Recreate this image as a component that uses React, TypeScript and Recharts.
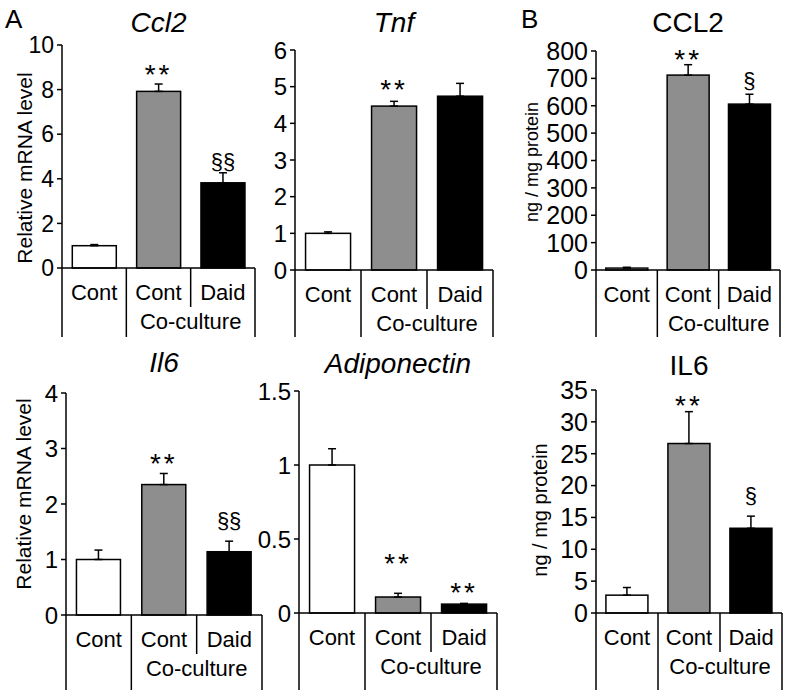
import { BarChart, Bar, XAxis, YAxis, ErrorBar } from "recharts";

const FONT = "'Liberation Sans', Arial, sans-serif";

// x categories
const CATEGORIES = ["Cont", "Cont", "Daid"];
const GROUP_LABEL = "Co-culture";

// A: mRNA
const CCL2_MRNA = [1.0, 7.92, 3.82];
const CCL2_MRNA_ERR = [0.05, 0.33, 0.45];
const CCL2_MRNA_SIG = ["", "**", "§§"];
const CCL2_MRNA_TICKS = [0, 2, 4, 6, 8, 10];

const TNF_MRNA = [1.0, 4.47, 4.74];
const TNF_MRNA_ERR = [0.04, 0.13, 0.35];
const TNF_MRNA_SIG = ["", "**", ""];
const TNF_MRNA_TICKS = [0, 1, 2, 3, 4, 5, 6];

const IL6_MRNA = [1.0, 2.35, 1.14];
const IL6_MRNA_ERR = [0.17, 0.2, 0.19];
const IL6_MRNA_SIG = ["", "**", "§§"];
const IL6_MRNA_TICKS = [0, 1, 2, 3, 4];

const ADIPO_MRNA = [1.0, 0.108, 0.06];
const ADIPO_MRNA_ERR = [0.11, 0.025, 0.005];
const ADIPO_MRNA_SIG = ["", "**", "**"];
const ADIPO_MRNA_TICKS = [0, 0.5, 1, 1.5];

// B: protein
const CCL2_PROT = [7, 712, 606];
const CCL2_PROT_ERR = [3, 38, 36];
const CCL2_PROT_SIG = ["", "**", "§"];
const CCL2_PROT_TICKS = [0, 100, 200, 300, 400, 500, 600, 700, 800];

const IL6_PROT = [2.8, 26.6, 13.3];
const IL6_PROT_ERR = [1.2, 5.0, 1.9];
const IL6_PROT_SIG = ["", "**", "§"];
const IL6_PROT_TICKS = [0, 5, 10, 15, 20, 25, 30, 35];

const FILLS = ["#ffffff", "#8e8e8e", "#000000"];
const Y_W = 60;
const TOP_M = 16;

type Panel = {
  title: string;
  italic: boolean;
  values: number[];
  errors: number[];
  sig: string[];
  ticks: number[];
  yLabel?: string;
  yLabelSize?: number;
  yLabelAt?: [number, number];
  left: number;
  right: number;
  top: number;
  bottom: number;
  tableH: number;
  tickFont: number;
  titleY: number;
  lift: number[];
};

const PANELS: Panel[] = [
  {
    title: "Ccl2", italic: true, values: CCL2_MRNA, errors: CCL2_MRNA_ERR, sig: CCL2_MRNA_SIG, ticks: CCL2_MRNA_TICKS,
    yLabel: "Relative mRNA level", yLabelSize: 21, yLabelAt: [24, 168],
    left: 62, right: 255, top: 45, bottom: 268, tableH: 70, tickFont: 23, titleY: 23, lift: [0, 16, 10],
  },
  {
    title: "Tnf", italic: true, values: TNF_MRNA, errors: TNF_MRNA_ERR, sig: TNF_MRNA_SIG, ticks: TNF_MRNA_TICKS,
    left: 295, right: 493, top: 50, bottom: 270, tableH: 68, tickFont: 24, titleY: 23, lift: [0, 18, 0],
  },
  {
    title: "CCL2", italic: false, values: CCL2_PROT, errors: CCL2_PROT_ERR, sig: CCL2_PROT_SIG, ticks: CCL2_PROT_TICKS,
    yLabel: "ng / mg protein", yLabelSize: 18, yLabelAt: [532, 162],
    left: 596, right: 780, top: 51, bottom: 270, tableH: 68, tickFont: 25, titleY: 23, lift: [0, 12, 12],
  },
  {
    title: "Il6", italic: true, values: IL6_MRNA, errors: IL6_MRNA_ERR, sig: IL6_MRNA_SIG, ticks: IL6_MRNA_TICKS,
    yLabel: "Relative mRNA level", yLabelSize: 21, yLabelAt: [23, 494],
    left: 66, right: 262, top: 393, bottom: 615, tableH: 76, tickFont: 24, titleY: 363, lift: [0, 16, 19],
  },
  {
    title: "Adiponectin", italic: true, values: ADIPO_MRNA, errors: ADIPO_MRNA_ERR, sig: ADIPO_MRNA_SIG, ticks: ADIPO_MRNA_TICKS,
    left: 299, right: 497, top: 391, bottom: 613, tableH: 78, tickFont: 24, titleY: 364, lift: [0, 36, 17],
  },
  {
    title: "IL6", italic: false, values: IL6_PROT, errors: IL6_PROT_ERR, sig: IL6_PROT_SIG, ticks: IL6_PROT_TICKS,
    yLabel: "ng / mg protein", yLabelSize: 20, yLabelAt: [540, 510],
    left: 596, right: 782, top: 390, bottom: 613, tableH: 78, tickFont: 25, titleY: 366, lift: [0, 13, 19],
  },
];

function TableTick(props: any) {
  const { x, y, index, payload, half, tableH } = props;
  const long = tableH - 1;
  const els: any[] = [];
  const line = (lx: number, len: number, key: string) => (
    <line key={key} x1={lx} x2={lx} y1={y} y2={y + len} stroke="#000" strokeWidth={1.5} />
  );
  if (index === 0) els.push(line(x - half, long, "l"));
  els.push(line(x + half, index === 1 ? 39 : long, "r"));
  els.push(
    <text key="t" x={x} y={y + 32} textAnchor="middle" fontSize={22} fontFamily={FONT} fill="#000">
      {payload.value}
    </text>
  );
  if (index === 1) {
    els.push(
      <text key="g" x={x + half} y={y + 61} textAnchor="middle" fontSize={22} fontFamily={FONT} fill="#000">
        {GROUP_LABEL}
      </text>
    );
  }
  return <g>{els}</g>;
}

function ChartPanel({ p }: { p: Panel }) {
  const data = CATEGORIES.map((c, i) => ({ cat: c, value: p.values[i], err: [0, p.errors[i]] }));
  const plotW = p.right - p.left;
  const plotH = p.bottom - p.top;
  const width = Y_W + plotW + 6;
  const height = TOP_M + plotH + p.tableH + 2;
  const half = plotW / (2 * CATEGORIES.length);

  const shape = (s: any) => {
    const { x, y, width: w, height: h, index } = s;
    const v = p.values[index];
    const errPx = v ? (h * p.errors[index]) / v : 0;
    const note = p.sig[index];
    const isStar = note.includes("*");
    const fs = isStar ? 28 : 22;
    const cy = y - errPx - p.lift[index];
    return (
      <g>
        <rect x={x} y={y} width={w} height={h} fill={FILLS[index]} stroke="#000" strokeWidth={1.5} />
        {note && (
          <text
            x={x + w / 2}
            y={cy + (isStar ? 0.57 : 0.27) * fs}
            textAnchor="middle"
            fontSize={fs}
            fontFamily={FONT}
            letterSpacing={isStar ? 3 : 0}
            fill="#000"
          >
            {note}
          </text>
        )}
      </g>
    );
  };

  return (
    <div style={{ position: "absolute", left: p.left - Y_W, top: p.top - TOP_M }}>
      <BarChart
        width={width}
        height={height}
        data={data}
        margin={{ top: TOP_M, right: 6, left: 0, bottom: 2 }}
        barCategoryGap="16%"
      >
        <XAxis
          dataKey="cat"
          interval={0}
          tickLine={false}
          tickSize={0}
          tickMargin={0}
          height={p.tableH}
          axisLine={{ stroke: "#000", strokeWidth: 1.5 }}
          tick={(t: any) => <TableTick {...t} half={half} tableH={p.tableH} />}
        />
        <YAxis
          width={Y_W}
          domain={[0, p.ticks[p.ticks.length - 1]]}
          ticks={p.ticks}
          interval={0}
          tickSize={5}
          tickMargin={3}
          axisLine={{ stroke: "#000", strokeWidth: 1.5 }}
          tickLine={{ stroke: "#000", strokeWidth: 1.5 }}
          tick={{ fill: "#000", fontSize: p.tickFont, fontFamily: FONT }}
        />
        <Bar dataKey="value" isAnimationActive={false} shape={shape}>
          <ErrorBar dataKey="err" direction="y" width={4} stroke="#000" strokeWidth={1.5} />
        </Bar>
      </BarChart>
    </div>
  );
}

export default function App() {
  return (
    <div
      style={{
        position: "absolute",
        left: 0,
        top: 0,
        width: 788,
        height: 691,
        background: "#fff",
        fontFamily: FONT,
        overflow: "hidden",
      }}
    >
      {PANELS.map((p) => (
        <ChartPanel key={p.title} p={p} />
      ))}
      {PANELS.map((p) => (
        <div
          key={"t" + p.title}
          style={{
            position: "absolute",
            left: (p.left + p.right) / 2,
            top: p.titleY,
            transform: "translate(-50%, -50%)",
            fontSize: 28,
            lineHeight: 1,
            fontStyle: p.italic ? "italic" : "normal",
            whiteSpace: "nowrap",
          }}
        >
          {p.title}
        </div>
      ))}
      {PANELS.filter((p) => p.yLabel).map((p) => (
        <div
          key={"y" + p.title}
          style={{
            position: "absolute",
            left: p.yLabelAt![0],
            top: p.yLabelAt![1],
            transform: "translate(-50%, -50%) rotate(-90deg)",
            fontSize: p.yLabelSize,
            lineHeight: 1,
            whiteSpace: "nowrap",
          }}
        >
          {p.yLabel}
        </div>
      ))}
      <div style={{ position: "absolute", left: 5, top: 6, fontSize: 26, lineHeight: 1 }}>A</div>
      <div style={{ position: "absolute", left: 521, top: 6, fontSize: 26, lineHeight: 1 }}>B</div>
    </div>
  );
}
